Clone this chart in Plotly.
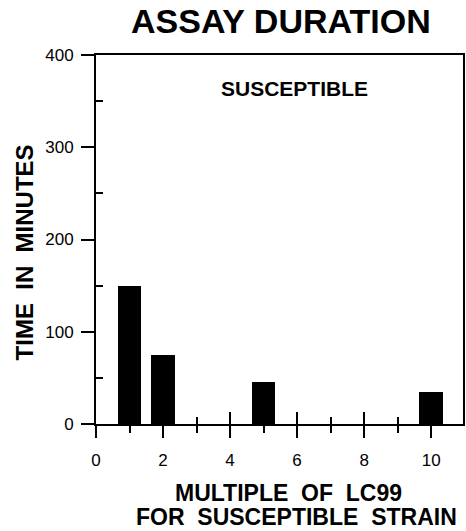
import plotly.graph_objects as go

# Assay duration for the susceptible strain, by multiple of LC99
multiples = [1, 2, 5, 10]
minutes = [150, 75, 45, 35]

x_tickvals = [0, 2, 4, 6, 8, 10]
y_tickvals = [0, 100, 200, 300, 400]

FONT = "Liberation Sans, Arial, Helvetica, sans-serif"
W, H = 466, 531
L, R, T, B = 96, 1, 55, 107
pw, ph = W - L - R, H - T - B


def px_x(px):
    return (px - L) / pw


def px_y(py):
    return (H - B - py) / ph


fig = go.Figure()
fig.add_trace(go.Bar(
    x=multiples, y=minutes, width=0.7,
    marker=dict(color="black", line=dict(width=0)),
    xaxis="x", yaxis="y", showlegend=False, hoverinfo="x+y",
))
# invisible companion trace so the inside-tick axis is rendered
fig.add_trace(go.Scatter(
    x=multiples, y=minutes, mode="markers", marker=dict(opacity=0),
    xaxis="x2", yaxis="y", showlegend=False, hoverinfo="skip",
))

axis_common = dict(
    range=[0, 10.95], tickvals=x_tickvals, ticklen=12, tickwidth=2,
    tickcolor="black", showgrid=False, zeroline=False,
)

fig.update_layout(
    width=W, height=H,
    margin=dict(l=L, r=R, t=T, b=B, pad=0),
    paper_bgcolor="white", plot_bgcolor="white",
    bargap=0,
    xaxis=dict(
        **axis_common,
        ticks="outside",
        minor=dict(dtick=1, tick0=1, ticks="outside", ticklen=7, tickwidth=2,
                   tickcolor="black", showgrid=False),
        showline=True, linecolor="black", linewidth=2, mirror=True,
        ticktext=[str(v) for v in x_tickvals],
        tickfont=dict(family=FONT, size=17, color="black"),
        ticklabelstandoff=8,
    ),
    xaxis2=dict(
        **axis_common,
        ticks="inside",
        minor=dict(dtick=1, tick0=1, ticks="inside", ticklen=7, tickwidth=2,
                   tickcolor="black", showgrid=False),
        overlaying="x", matches="x", anchor="y",
        side="bottom", showticklabels=False, showline=False,
    ),
    yaxis=dict(
        range=[0, 400], tickvals=y_tickvals, ticks="outside", ticklen=13,
        tickwidth=2, tickcolor="black",
        showline=True, linecolor="black", linewidth=2, mirror=True,
        showgrid=False, zeroline=False,
        tickfont=dict(family=FONT, size=17, color="black"),
        ticklabelstandoff=4,
        minor=dict(dtick=100, tick0=50, ticks="inside", ticklen=7,
                   tickwidth=2, tickcolor="black", showgrid=False),
    ),
)


def label(text, x, y, size, angle=0):
    fig.add_annotation(
        text=f"<b>{text}</b>", x=px_x(x), y=px_y(y), xref="paper", yref="paper",
        xanchor="center", yanchor="middle", showarrow=False, textangle=angle,
        font=dict(family=FONT, size=size, color="black"),
    )


label("ASSAY DURATION", 282.5, 21, 34)
label("SUSCEPTIBLE", 295.5, 88, 21)
label("MULTIPLE  OF  LC99", 290, 493, 23)
label("FOR  SUSCEPTIBLE  STRAIN", 297.5, 517, 23)
label("TIME  IN  MINUTES", 24, 252, 24, angle=-90)

fig.write_html("out.html")
